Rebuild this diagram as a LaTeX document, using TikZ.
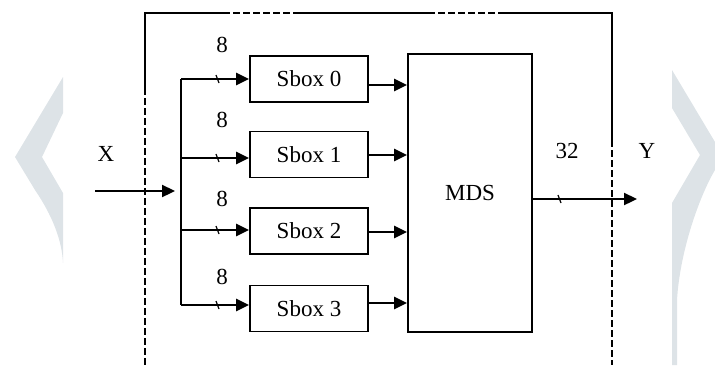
\documentclass[tikz,border=0pt]{standalone}
\usepackage{fontspec}
\setmainfont{Liberation Serif}
\usetikzlibrary{arrows.meta}
\definecolor{wm}{RGB}{221,227,231}
\tikzset{
  boxsty/.style={draw, line width=1.8pt, minimum width=118pt, minimum height=46pt, inner sep=0pt, font=\fontsize{23}{27}\selectfont},
  arr/.style={line width=2.3pt, -{Triangle[length=13pt,width=12pt]}},
  busline/.style={line width=2.2pt},
  frame/.style={line width=1.7pt},
  dframe/.style={line width=1.7pt, dash pattern=on 7pt off 3pt},
  tick/.style={line width=1.2pt},
  lbl/.style={font=\fontsize{23}{27}\selectfont, inner sep=0pt}
}
\begin{document}
\begin{tikzpicture}[x=1pt,y=-1pt]
\useasboundingbox (0,0) rectangle (715,365);
% watermark chevrons
\fill[wm] (63,77) -- (15,157) -- (35,190) .. controls (52,215) and (62,240) .. (63,263) -- (63,193) -- (42,157) -- (63,113) -- cycle;
\fill[wm] (672,70) -- (715,142) -- (715,170) .. controls (700,195) and (680,250) .. (677,300) -- (677,365) -- (672,365) -- (672,203) -- (700,155) -- (672,108) -- cycle;
% outer frame
\draw[frame] (145,88) -- (145,12.7) -- (223,12.7);
\draw[dframe] (223,12.7) -- (298,12.7);
\draw[frame] (298,12.7) -- (428,12.7);
\draw[dframe] (428,12.7) -- (503,12.7);
\draw[frame] (503,12.7) -- (612,12.7) -- (612,140);
\draw[dframe] (145,88) -- (145,365);
\draw[dframe] (612,140) -- (612,365);
% blocks
\node[boxsty] (s0) at (309,79) {Sbox 0};
\node[boxsty] (s1) at (309,154.5) {Sbox 1};
\node[boxsty] (s2) at (309,231) {Sbox 2};
\node[boxsty] (s3) at (309,308.5) {Sbox 3};
\node[boxsty, minimum width=124pt, minimum height=278pt] (mds) at (470,193) {MDS};
% input
\coordinate (xin) at (95,191);
\coordinate (xend) at (175,191);
\draw[arr] (xin) -- (xend);
\coordinate (b0) at (181,79);
\coordinate (b1) at (181,158);
\coordinate (b2) at (181,230);
\coordinate (b3) at (181,305);
\draw[busline] (b0) -- (b3);
\draw[arr] (b0) -- (b0 -| s0.west);
\draw[arr] (b1) -- (b1 -| s1.west);
\draw[arr] (b2) -- (b2 -| s2.west);
\draw[arr] (b3) -- (b3 -| s3.west);
% ticks on branches
\draw[tick] (216,75) -- (219,83);
\draw[tick] (216,154) -- (219,162);
\draw[tick] (216,226) -- (219,234);
\draw[tick] (216,301) -- (219,309);
% sbox to mds
\draw[arr] ([yshift=-6pt]s0.east) -- ([yshift=-6pt]s0.east -| mds.west);
\draw[arr] ([yshift=-0.5pt]s1.east) -- ([yshift=-0.5pt]s1.east -| mds.west);
\draw[arr] ([yshift=-1pt]s2.east) -- ([yshift=-1pt]s2.east -| mds.west);
\draw[arr] ([yshift=5.5pt]s3.east) -- ([yshift=5.5pt]s3.east -| mds.west);
% output
\coordinate (yout) at (637,199);
\draw[arr] (mds.east |- yout) -- (yout);
\draw[tick] (558,195) -- (561,203);
% labels
\node[lbl] (lx) at (106,154) {X};
\node[lbl] (ly) at (647,151) {Y};
\node[lbl] (l32) at (567,151) {32};
\node[lbl] (l8a) at (222,45) {8};
\node[lbl] (l8b) at (222,120) {8};
\node[lbl] (l8c) at (222,199) {8};
\node[lbl] (l8d) at (222,277) {8};
\end{tikzpicture}
\end{document}
